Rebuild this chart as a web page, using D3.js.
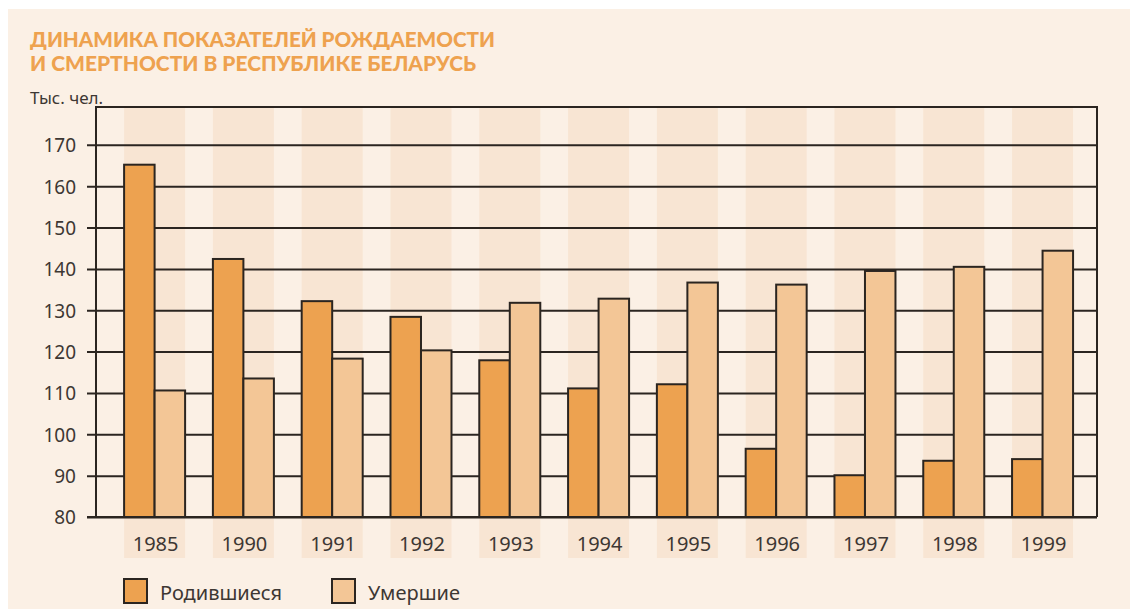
<!DOCTYPE html>
<html>
<head>
<meta charset="utf-8">
<script src="https://cdn.jsdelivr.net/npm/d3@7"></script>
<style>
  html, body { margin: 0; padding: 0; background: #fff; }
  svg { display: block; }
</style>
</head>
<body>
<script>
// data
var years = ['1985', '1990', '1991', '1992', '1993', '1994', '1995', '1996', '1997', '1998', '1999'];
var births = [165.2, 142.4, 132.2, 128.4, 117.9, 111.1, 112.1, 96.5, 90.1, 93.6, 94.0];
var deaths = [110.6, 113.5, 118.3, 120.3, 131.8, 132.8, 136.7, 136.2, 139.5, 140.5, 144.4];
var seriesNames = ['Родившиеся', 'Умершие'];
var yTicks = [80, 90, 100, 110, 120, 130, 140, 150, 160, 170];

var width = 1130;
var height = 610;

var colBirth = '#eda250';
var colDeath = '#f3c696';
var ink = '#2b2520';
var textCol = '#3d3733';
var font = "'Noto Sans', 'DejaVu Sans', sans-serif";

var svg = d3.select('body').append('svg')
  .attr('width', width)
  .attr('height', height);

// panel
svg.append('rect')
  .attr('x', 8).attr('y', 9)
  .attr('width', width - 8).attr('height', 600)
  .attr('fill', '#fbf0e5');

var plot = { left: 96, right: 1097, top: 107, bottom: 517 };

var x = d3.scaleBand()
  .domain(years)
  .range([plot.left, plot.right])
  .paddingInner(0.313)
  .paddingOuter(0.293)
  .align(0.54);

var xs = d3.scaleBand()
  .domain(seriesNames)
  .range([0, x.bandwidth()]);

var y = d3.scaleLinear()
  .domain([80, 80 + (plot.bottom - plot.top) / 4.135])
  .range([plot.bottom, plot.top]);

// column stripes
svg.append('g').selectAll('rect')
  .data(years)
  .enter().append('rect')
  .attr('x', function(d) { return x(d); })
  .attr('y', plot.top)
  .attr('width', x.bandwidth())
  .attr('height', 558 - plot.top)
  .attr('fill', '#f8e5d3');

// grid lines + ticks
var yAxis = d3.axisLeft(y)
  .tickValues(yTicks)
  .tickSize(-(plot.right - plot.left))
  .tickSizeOuter(0)
  .tickPadding(0)
  .tickFormat(d3.format('d'));

var ga = svg.append('g')
  .attr('transform', 'translate(' + plot.left + ',0)')
  .call(yAxis);
ga.select('.domain').remove();
ga.selectAll('.tick line')
  .attr('x1', -9)
  .attr('stroke', ink)
  .attr('stroke-width', 2);
ga.selectAll('.tick text')
  .attr('x', -20)
  .attr('dy', '0.36em')
  .attr('fill', textCol)
  .style('font-family', font)
  .style('font-size', '19px');

// bars
var series = [births, deaths];
var colors = [colBirth, colDeath];
series.forEach(function(vals, si) {
  svg.append('g').selectAll('rect')
    .data(vals)
    .enter().append('rect')
    .attr('x', function(d, i) { return x(years[i]) + xs(seriesNames[si]); })
    .attr('y', function(d) { return y(d); })
    .attr('width', xs.bandwidth())
    .attr('height', function(d) { return y(80) - y(d); })
    .attr('fill', colors[si])
    .attr('stroke', ink)
    .attr('stroke-width', 2);
});

// frame
svg.append('path')
  .attr('d', 'M' + plot.left + ',' + plot.bottom + 'V' + plot.top + 'H' + plot.right + 'V' + plot.bottom)
  .attr('fill', 'none')
  .attr('stroke', ink)
  .attr('stroke-width', 2);
svg.append('line')
  .attr('x1', plot.left - 9).attr('x2', plot.right)
  .attr('y1', plot.bottom).attr('y2', plot.bottom)
  .attr('stroke', ink).attr('stroke-width', 2);

// x labels
svg.append('g').selectAll('text')
  .data(years)
  .enter().append('text')
  .attr('x', function(d) { return x(d) + x.bandwidth() / 2 + 1; })
  .attr('y', 551)
  .attr('text-anchor', 'middle')
  .attr('fill', textCol)
  .style('font-family', font)
  .style('font-size', '20px')
  .text(function(d) { return d; });

// title
var title = ['ДИНАМИКА ПОКАЗАТЕЛЕЙ РОЖДАЕМОСТИ', 'И СМЕРТНОСТИ В РЕСПУБЛИКЕ БЕЛАРУСЬ'];
var titleLen = [465, 446];
svg.append('g').selectAll('text')
  .data(title)
  .enter().append('text')
  .attr('x', 30)
  .attr('y', function(d, i) { return 47 + i * 24; })
  .attr('textLength', function(d, i) { return titleLen[i]; })
  .attr('lengthAdjust', 'spacingAndGlyphs')
  .attr('fill', '#eea24f')
  .style('font-family', "'Lato', 'Open Sans', sans-serif")
  .style('font-weight', 900)
  .style('font-size', '21px')
  .text(function(d) { return d; });

svg.append('text')
  .attr('x', 30).attr('y', 104)
  .attr('fill', textCol)
  .style('font-family', font)
  .style('font-size', '17px')
  .text('Тыс. чел.');

// legend
var legX = [124, 332];
seriesNames.forEach(function(name, i) {
  svg.append('rect')
    .attr('x', legX[i]).attr('y', 579)
    .attr('width', 23).attr('height', 24)
    .attr('fill', colors[i])
    .attr('stroke', ink)
    .attr('stroke-width', 2);
  svg.append('text')
    .attr('x', legX[i] + 36).attr('y', 600)
    .attr('fill', textCol)
    .style('font-family', font)
    .style('font-size', '20px')
    .text(name);
});
</script>
</body>
</html>
